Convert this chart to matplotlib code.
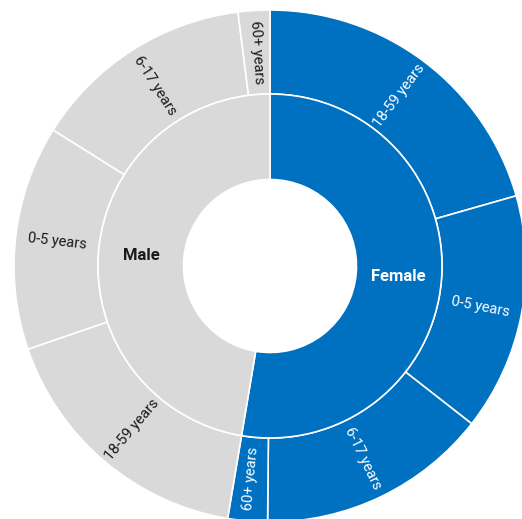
import numpy as np
import matplotlib.pyplot as plt

# inner ring: sex share (%)
sexes = ['Female', 'Male']
sex_share = [52.7, 47.4]

# outer ring: age groups within each sex (%), clockwise from 12 o'clock
age_labels = ['18-59 years', '0-5 years', '6-17 years', '60+ years',
              '18-59 years', '0-5 years', '6-17 years', '60+ years']
age_share = [20.6, 15.0, 14.6, 2.5,
             17.1, 14.2, 14.1, 2.0]
age_sex = ['Female'] * 4 + ['Male'] * 4

blue = '#0070C0'
grey = '#D9D9D9'
colors = {'Female': blue, 'Male': grey}
text_col = {'Female': 'white', 'Male': '#1a1a1a'}

plt.rcParams['font.family'] = ['Roboto', 'DejaVu Sans']

fig = plt.figure(figsize=(5.22, 5.19), dpi=100)
ax = fig.add_axes([0, 0, 1, 1])

cx, cy = 270, -266
r_hole, r_mid, r_out = 86.5, 172, 256

ax.pie(age_share, radius=r_out, center=(cx, cy), startangle=90, counterclock=False,
       colors=[colors[s] for s in age_sex],
       wedgeprops=dict(width=r_out - r_mid, edgecolor='white', linewidth=1.2))
ax.pie(sex_share, radius=r_mid, center=(cx, cy), startangle=90, counterclock=False,
       colors=[colors[s] for s in sexes],
       wedgeprops=dict(width=r_mid - r_hole, edgecolor='white', linewidth=1.2))


def mid_angles(vals):
    tot = sum(vals)
    cum = np.cumsum([0] + list(vals))
    # math angle (deg, ccw from x axis) of each slice middle
    return [90 - 360 * (cum[i] + cum[i + 1]) / 2 / tot for i in range(len(vals))]


# inner labels, horizontal
for name, a in zip(sexes, mid_angles(sex_share)):
    rr = (r_hole + r_mid) / 2
    ax.text(cx + rr * np.cos(np.radians(a)), cy + rr * np.sin(np.radians(a)), name,
            ha='center', va='center', fontsize=12, fontweight='bold', color=text_col[name])

# outer labels, radial
for lab, s, a in zip(age_labels, age_sex, mid_angles(age_share)):
    rr = (r_mid + r_out) / 2
    rot = a % 360
    if 90 < rot < 270:
        rot -= 180
    ax.text(cx + rr * np.cos(np.radians(a)), cy + rr * np.sin(np.radians(a)), lab,
            ha='center', va='center', fontsize=10.5, rotation=rot, rotation_mode='anchor',
            color=text_col[s])

ax.set_xlim(0, 522)
ax.set_ylim(-519, 0)
ax.set_aspect('equal')
ax.axis('off')

fig.savefig('out.png', dpi=100)
